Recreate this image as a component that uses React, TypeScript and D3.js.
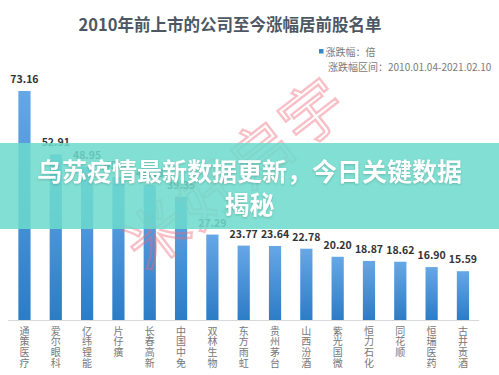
import React from "react";
import * as d3 from "d3";

const categories = ["通策医疗","爱尔眼科","亿纬锂能","片仔癀","长春高新","中国中免","双林生物","东方雨虹","贵州茅台","山西汾酒","紫光国微","恒力石化","同花顺","恒瑞医药","古井贡酒"];
const values = [73.16, 52.91, 48.95, 45.62, 43.18, 39.35, 27.29, 23.77, 23.64, 22.78, 20.20, 18.87, 18.62, 16.90, 15.59];
const title = "2010年前上市的公司至今涨幅居前股名单";
const legendLine1 = "涨跌幅：倍";
const legendLine2 = "涨跌幅区间：2010.01.04-2021.02.10";
const overlayLine1 = "乌苏疫情最新数据更新，今日关键数据";
const overlayLine2 = "揭秘";
const watermark = "米好启宇";

const W = 499, H = 375;
const FONT = "'Noto Sans CJK SC', 'Noto Sans', sans-serif";

export default function App() {
  const x = d3.scaleBand<string>().domain(categories).range([8.8, 478.6]).paddingInner(0.61).paddingOuter(0.305);
  const y = d3.scaleLinear().domain([0, 73.16]).range([320, 91]);
  const bw = x.bandwidth();
  return (
    <svg width={W} height={H} style={{ position: "absolute", left: 0, top: 0, background: "#fff" }} fontFamily={FONT}>
      <defs>
        <linearGradient id="barg" x1="0" y1="0" x2="0" y2="1">
          <stop offset="0%" stopColor="#66a7e6" />
          <stop offset="100%" stopColor="#2c7cc6" />
        </linearGradient>
      </defs>
      <rect width={W} height={H} fill="#fff" />
      <text x={230} y={31} textAnchor="middle" fontSize={16.5} fontWeight={700} fill="#4d5763">{title}</text>
      <rect x={319} y={49} width={4.5} height={4.5} fill="#3d85c8" />
      <text x={325.5} y={55.5} fontSize={10} fill="#7a7a7a">{legendLine1}</text>
      <text x={328} y={71} fontSize={10} fill="#7a7a7a">{legendLine2}</text>
      <line x1={8} x2={479} y1={320.5} y2={320.5} stroke="#d9d9d9" strokeWidth={1} />
      {categories.map((c, i) => {
        const bx = x(c)!;
        const top = y(values[i]);
        return (
          <g key={c}>
            <rect x={bx} y={top} width={bw} height={320 - top} fill="url(#barg)" />
            <text x={bx + bw / 2} y={top - 8} textAnchor="middle" fontSize={10.5} fontWeight={700} fill="#333">{values[i].toFixed(2)}</text>
            {Array.from(c).map((ch, k) => (
              <text key={k} x={bx + bw / 2} y={334.5 + k * 10.7} textAnchor="middle" fontSize={10} fill="#777">{ch}</text>
            ))}
          </g>
        );
      })}
      <text x={250} y={190} textAnchor="middle" fontSize={62} fill="none" stroke="rgba(238,105,118,0.42)" strokeWidth={2.4}
        transform="rotate(-38 250 190)" letterSpacing={4}>{watermark}</text>
      <rect x={0} y={143} width={W} height={86} fill="rgb(108,219,204)" opacity={0.86} />
      <g fill="#fff" fontWeight={700} fontSize={25} textAnchor="middle" style={{ filter: "drop-shadow(0px 1px 1px rgba(0,0,0,0.18))" }}>
        <text x={249.5} y={181}>{overlayLine1}</text>
        <text x={249.5} y={214}>{overlayLine2}</text>
      </g>
    </svg>
  );
}
